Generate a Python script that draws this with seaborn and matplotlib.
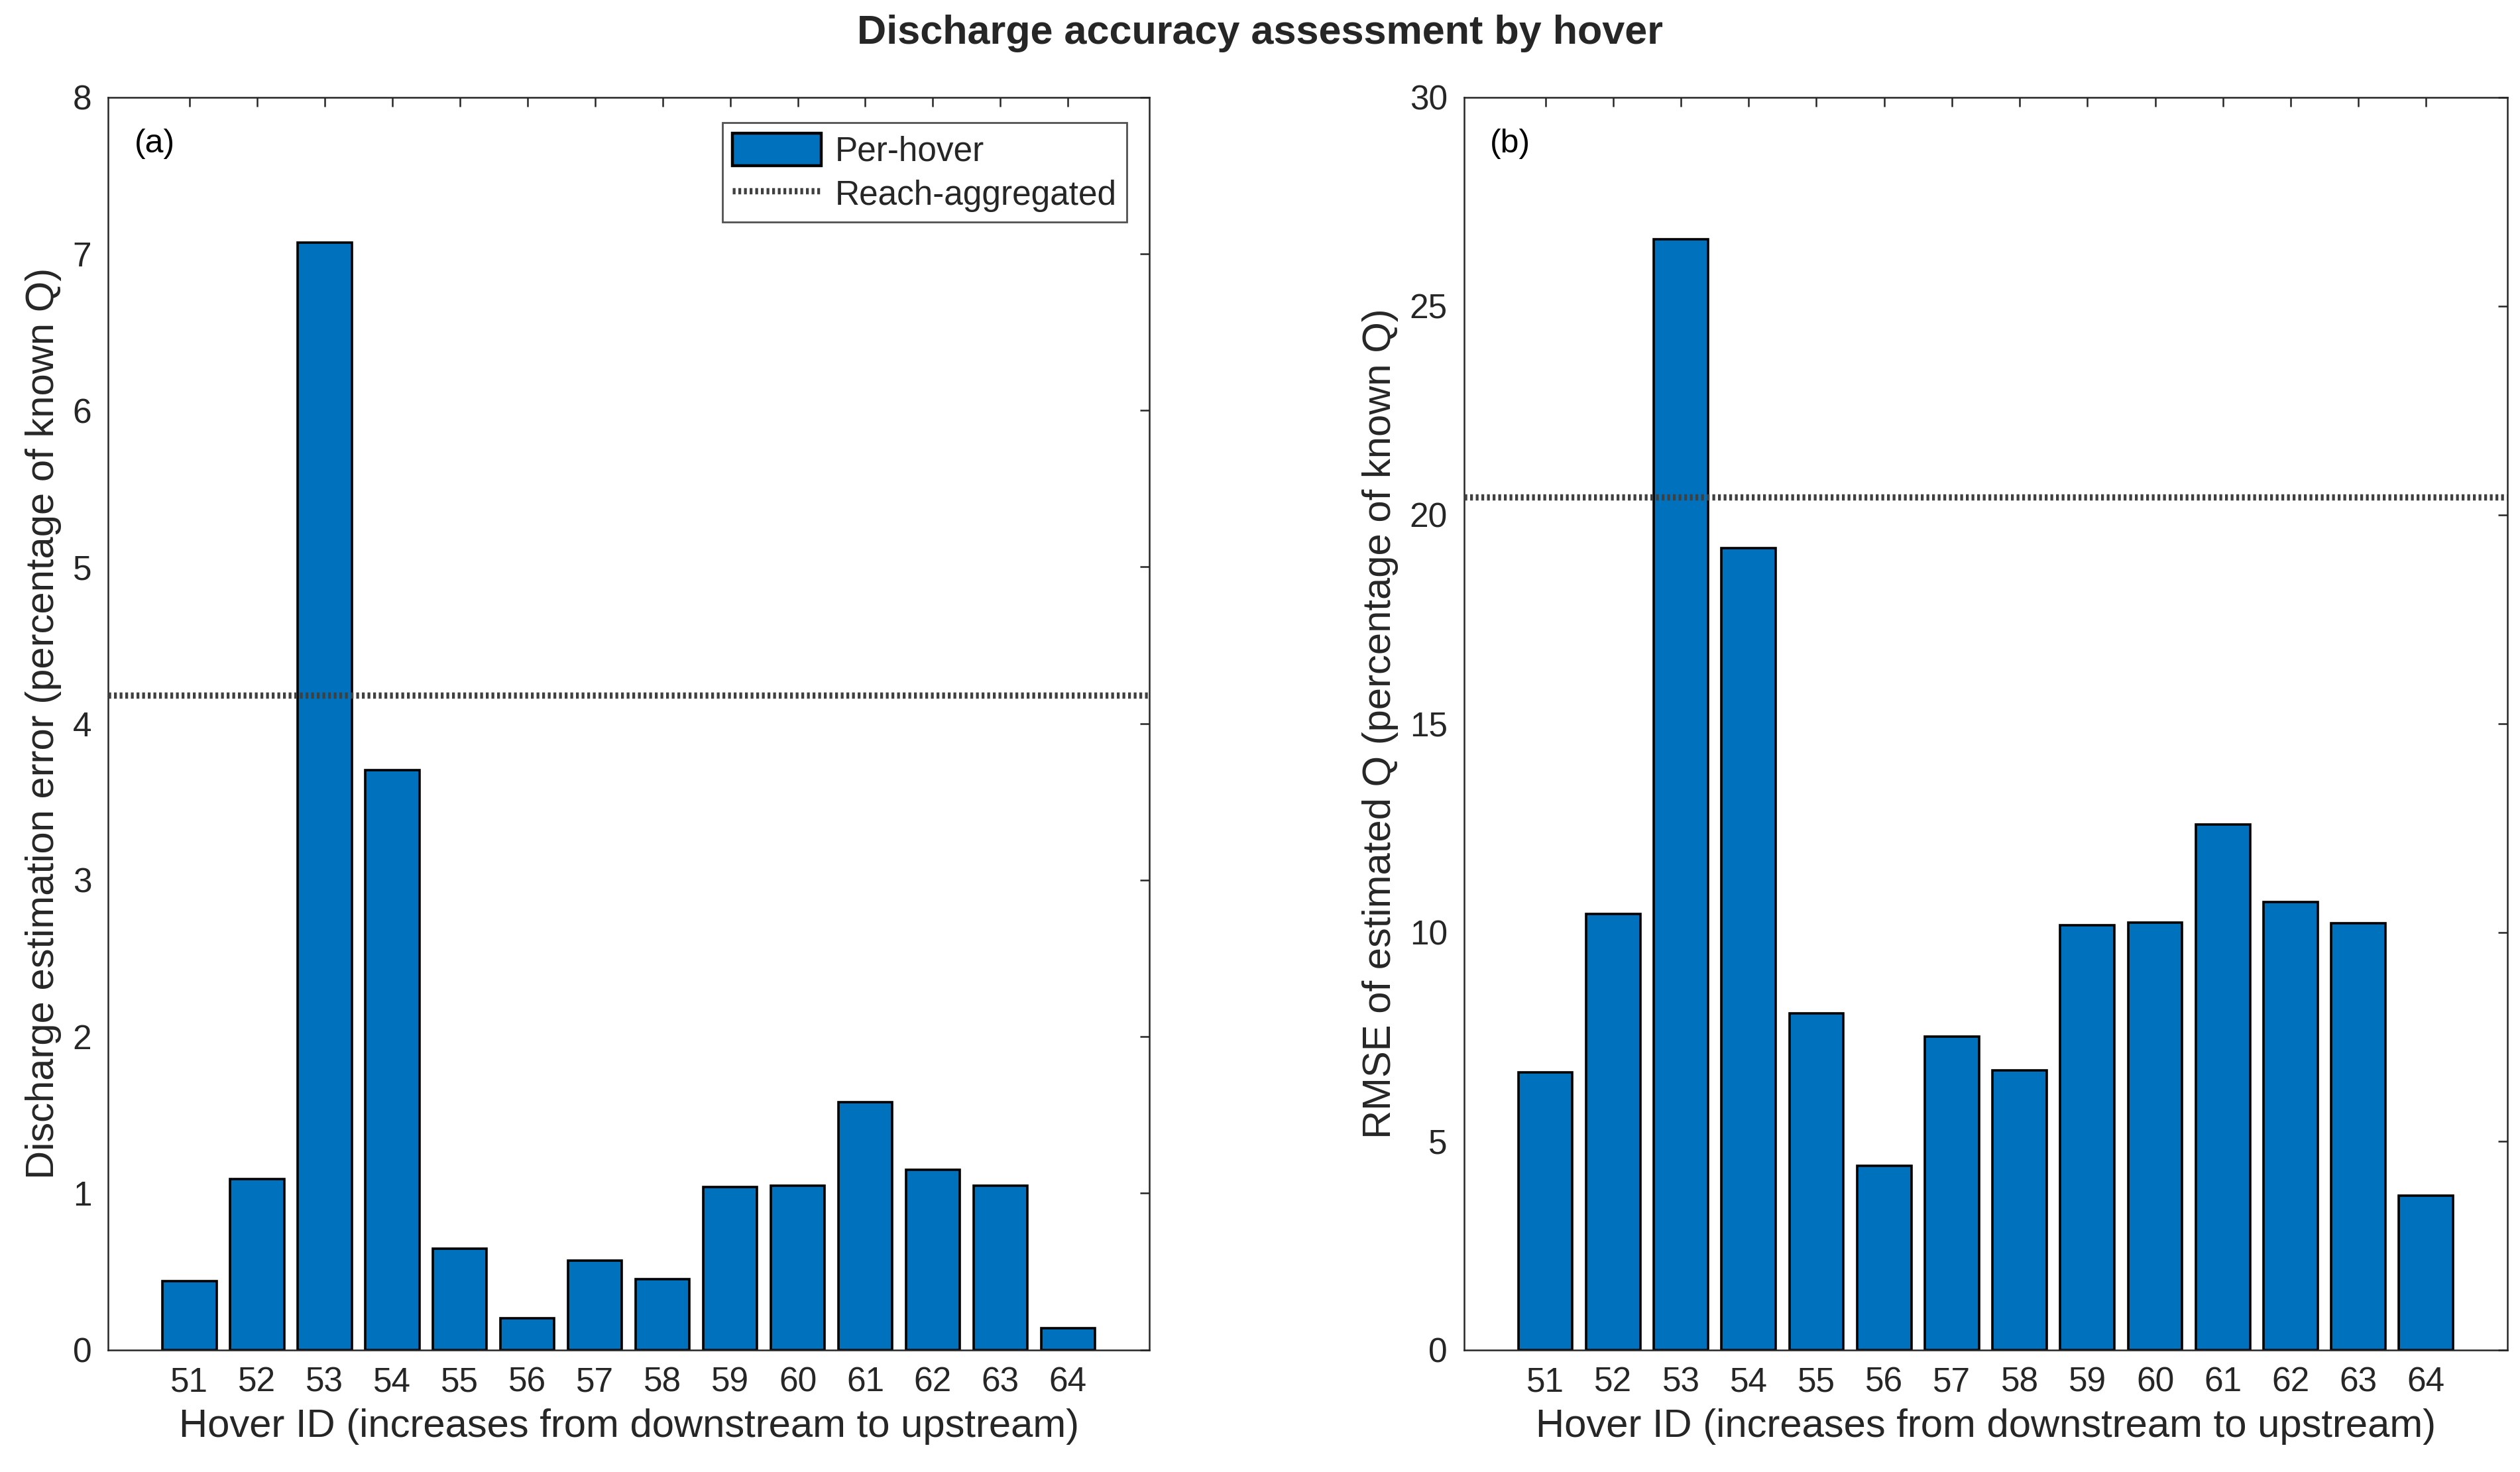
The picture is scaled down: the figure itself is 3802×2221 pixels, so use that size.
import numpy as np
import pandas as pd
import seaborn as sns
import matplotlib.pyplot as plt
from matplotlib.patches import Patch
from matplotlib.lines import Line2D

# Hover IDs and per-hover metrics
hover_ids = [51, 52, 53, 54, 55, 56, 57, 58, 59, 60, 61, 62, 63, 64]
error_pct = [0.44, 1.09, 7.07, 3.70, 0.645, 0.20, 0.57, 0.45, 1.04, 1.05, 1.58, 1.15, 1.047, 0.137]
rmse_pct = [6.65, 10.44, 26.59, 19.2, 8.05, 4.41, 7.51, 6.69, 10.17, 10.24, 12.58, 10.72, 10.22, 3.70]
# Reach-aggregated values
reach_error = 4.18
reach_rmse = 20.43

bar_color = '#0072BD'
line_color = '#404040'
axis_color = '#262626'
dots = (0, (0.45, 0.45))

sns.set_style('white')
plt.rcParams['font.family'] = ['Liberation Sans', 'DejaVu Sans']

df = pd.DataFrame({'hover': hover_ids, 'error': error_pct, 'rmse': rmse_pct})

fig = plt.figure(figsize=(19.01, 11.105), dpi=200)
ax_a = fig.add_axes([0.043, 0.083, 0.413, 0.851])
ax_b = fig.add_axes([0.581, 0.083, 0.414, 0.851])


def draw_panel(ax, col, reach, ymax, ystep, ylabel, tag):
    sns.barplot(data=df, x='hover', y=col, native_scale=True, color=bar_color,
                edgecolor='black', linewidth=1.3, width=0.8, saturation=1, ax=ax, zorder=2)
    ax.axhline(reach, color=line_color, linestyle=dots, linewidth=3.4, zorder=3)
    ax.set_xlim(49.8, 65.2)
    ax.set_ylim(0, ymax)
    ax.set_xticks(hover_ids)
    ax.set_xticklabels([str(h) for h in hover_ids])
    ax.set_yticks(np.arange(0, ymax + ystep / 2, ystep))
    ax.tick_params(direction='in', length=5, width=0.9, top=True, right=True,
                   labelsize=18.5, colors=axis_color, pad=9)
    for s in ax.spines.values():
        s.set_color(axis_color)
        s.set_linewidth(0.9)
    ax.set_xlabel('Hover ID (increases from downstream to upstream)', fontsize=21.5, color=axis_color, labelpad=5)
    ax.set_ylabel(ylabel, fontsize=21.5, color=axis_color, labelpad=6)
    ax.text(0.025, 0.975, tag, transform=ax.transAxes, ha='left', va='top', fontsize=18, color='black')


draw_panel(ax_a, 'error', reach_error, 8, 1,
           'Discharge estimation error (percentage of known Q)', '(a)')
draw_panel(ax_b, 'rmse', reach_rmse, 30, 5,
           'RMSE of estimated Q (percentage of known Q)', '(b)')

handles = [Patch(facecolor=bar_color, edgecolor='black', linewidth=1.6),
           Line2D([0], [0], color=line_color, linestyle=dots, linewidth=3.4)]
leg = ax_a.legend(handles, ['Per-hover', 'Reach-aggregated'], loc='upper right',
                  bbox_to_anchor=(0.985, 0.985), fontsize=18.5, frameon=True, fancybox=False,
                  edgecolor=axis_color, handlelength=2.6, handleheight=1.1, borderpad=0.3,
                  labelspacing=0.25, handletextpad=0.4, borderaxespad=0.2)
leg.get_frame().set_linewidth(1.0)

fig.suptitle('Discharge accuracy assessment by hover', fontsize=22, fontweight='bold',
             color=axis_color, y=0.99)

fig.savefig('out.png', dpi=200)
